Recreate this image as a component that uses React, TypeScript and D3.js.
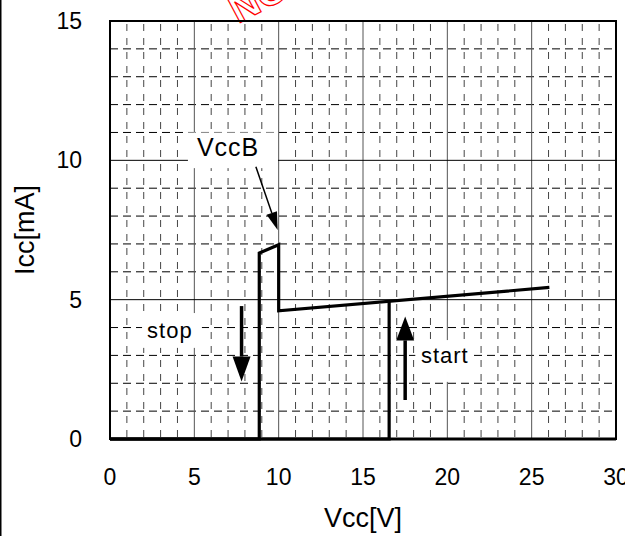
import React from "react";
import * as d3 from "d3";

const xTicks = [0, 5, 10, 15, 20, 25, 30];
const yTicks = [0, 5, 10, 15];
const minorX = d3.range(1, 30).filter((v) => v % 5 !== 0);
const minorY = d3.range(1, 15).filter((v) => v % 5 !== 0);

// main Icc curve (stop / VccB path)
const curveV = [0, 8.85, 8.85, 10.0, 10.0, 26.05];
const curveI = [0, 0, 6.67, 6.97, 4.6, 5.44];
// start jump
const startV = [0, 16.55, 16.55];
const startI = [0, 0, 4.96];

// annotation arrows [x1, y1, x2, y2] in data units
const stopArrow = [7.8, 4.77, 7.8, 2.06];
const startArrow = [17.5, 1.4, 17.5, 4.4];
const vccbArrow = [8.65, 9.77, 9.94, 7.5];

// labels: text, x, y, box [x0, x1, y0, y1]
const labels = [
  { text: "VccB", x: 7.0, y: 10.4, box: [4.62, 9.96, 9.72, 11.0], size: 25 },
  { text: "stop", x: 3.55, y: 3.85, box: [1.9, 5.45, 3.27, 4.52], size: 22 },
  { text: "start", x: 19.85, y: 2.95, box: [18.1, 21.5, 2.05, 3.55], size: 22 },
];

const W = 625;
const H = 536;
const M = { left: 110, right: 616, top: 21, bottom: 439 };
const FONT = "'Liberation Sans', Arial, sans-serif";

export default function App() {
  const x = d3.scaleLinear().domain([0, 30]).range([M.left, M.right]);
  const y = d3.scaleLinear().domain([0, 15]).range([M.bottom, M.top]);
  const line = d3
    .line<[number, number]>()
    .x((d) => x(d[0]))
    .y((d) => y(d[1]));
  const curve = line(curveV.map((v, i) => [v, curveI[i]]) as [number, number][]) || "";
  const start = line(startV.map((v, i) => [v, startI[i]]) as [number, number][]) || "";

  const arrow = (a: number[], head: number, half: number, sw: number, key: string) => {
    const x1 = x(a[0]), y1 = y(a[1]), x2 = x(a[2]), y2 = y(a[3]);
    const ang = Math.atan2(y2 - y1, x2 - x1);
    const bx = x2 - head * Math.cos(ang);
    const by = y2 - head * Math.sin(ang);
    const px = -Math.sin(ang) * half;
    const py = Math.cos(ang) * half;
    return (
      <g key={key}>
        <line x1={x1} y1={y1} x2={bx} y2={by} stroke="#000" strokeWidth={sw} />
        <polygon points={`${x2},${y2} ${bx + px},${by + py} ${bx - px},${by - py}`} fill="#000" />
      </g>
    );
  };

  return (
    <svg
      width={W}
      height={H}
      style={{ position: "fixed", left: 0, top: 0, background: "#fff" }}
      fontFamily={FONT}
    >
      <rect x={0} y={0} width={W} height={H} fill="#fff" />
      <line x1={0.75} y1={0} x2={0.75} y2={H} stroke="#000" strokeWidth={1.5} />

      {/* red stamp remnant */}
      <g transform="translate(238,24) rotate(-28)">
        <text x={0} y={0} fontSize={40} fontWeight="bold" fill="none" stroke="#ff0000" strokeWidth={1.2} fontFamily={FONT}>
          NG
        </text>
      </g>

      {/* minor grid */}
      {minorX.map((v) => (
        <line key={"mx" + v} x1={x(v)} x2={x(v)} y1={M.top} y2={M.bottom} stroke="#444" strokeWidth={1} strokeDasharray="7,7" strokeDashoffset={-3} />
      ))}
      {minorY.map((v) => (
        <line key={"my" + v} x1={M.left} x2={M.right} y1={y(v)} y2={y(v)} stroke="#000" strokeWidth={1} strokeDasharray="8,5" />
      ))}
      {/* major grid */}
      {xTicks.slice(1, -1).map((v) => (
        <line key={"Mx" + v} x1={x(v)} x2={x(v)} y1={M.top} y2={M.bottom} stroke="#555" strokeWidth={1} />
      ))}
      {yTicks.slice(1, -1).map((v) => (
        <line key={"My" + v} x1={M.left} x2={M.right} y1={y(v)} y2={y(v)} stroke="#000" strokeWidth={1} />
      ))}

      {/* label boxes */}
      {labels.map((l) => (
        <rect key={"b" + l.text} x={x(l.box[0])} y={y(l.box[3])} width={x(l.box[1]) - x(l.box[0])} height={y(l.box[2]) - y(l.box[3])} fill="#fff" />
      ))}

      {/* frame */}
      <rect x={M.left} y={M.top} width={M.right - M.left} height={M.bottom - M.top} fill="none" stroke="#000" strokeWidth={2} />
      <line x1={M.left} x2={M.right} y1={M.bottom} y2={M.bottom} stroke="#000" strokeWidth={3} />

      {/* data */}
      <path d={curve} fill="none" stroke="#000" strokeWidth={3.2} strokeLinejoin="miter" />
      <path d={start} fill="none" stroke="#000" strokeWidth={3.2} />

      {/* arrows */}
      {arrow(stopArrow, 25, 9, 3.5, "stop")}
      {arrow(startArrow, 24, 9, 3.5, "start")}
      {arrow(vccbArrow, 18, 5.5, 1.5, "vccb")}

      {/* labels */}
      {labels.map((l) => (
        <text key={l.text} x={x(l.x)} y={y(l.y)} fontSize={l.size} textAnchor="middle" dominantBaseline="middle" letterSpacing={1}>
          {l.text}
        </text>
      ))}

      {/* tick labels */}
      {xTicks.map((v) => (
        <text key={"xt" + v} x={x(v)} y={485} fontSize={23} textAnchor="middle">
          {v}
        </text>
      ))}
      {yTicks.map((v) => (
        <text key={"yt" + v} x={82} y={y(v) + 8} fontSize={23} textAnchor="end">
          {v}
        </text>
      ))}

      {/* axis titles */}
      <text x={(M.left + M.right) / 2} y={527} fontSize={27} textAnchor="middle">
        Vcc[V]
      </text>
      <text transform={`translate(34,${(M.top + M.bottom) / 2}) rotate(-90)`} fontSize={27} textAnchor="middle">
        Icc[mA]
      </text>
    </svg>
  );
}
